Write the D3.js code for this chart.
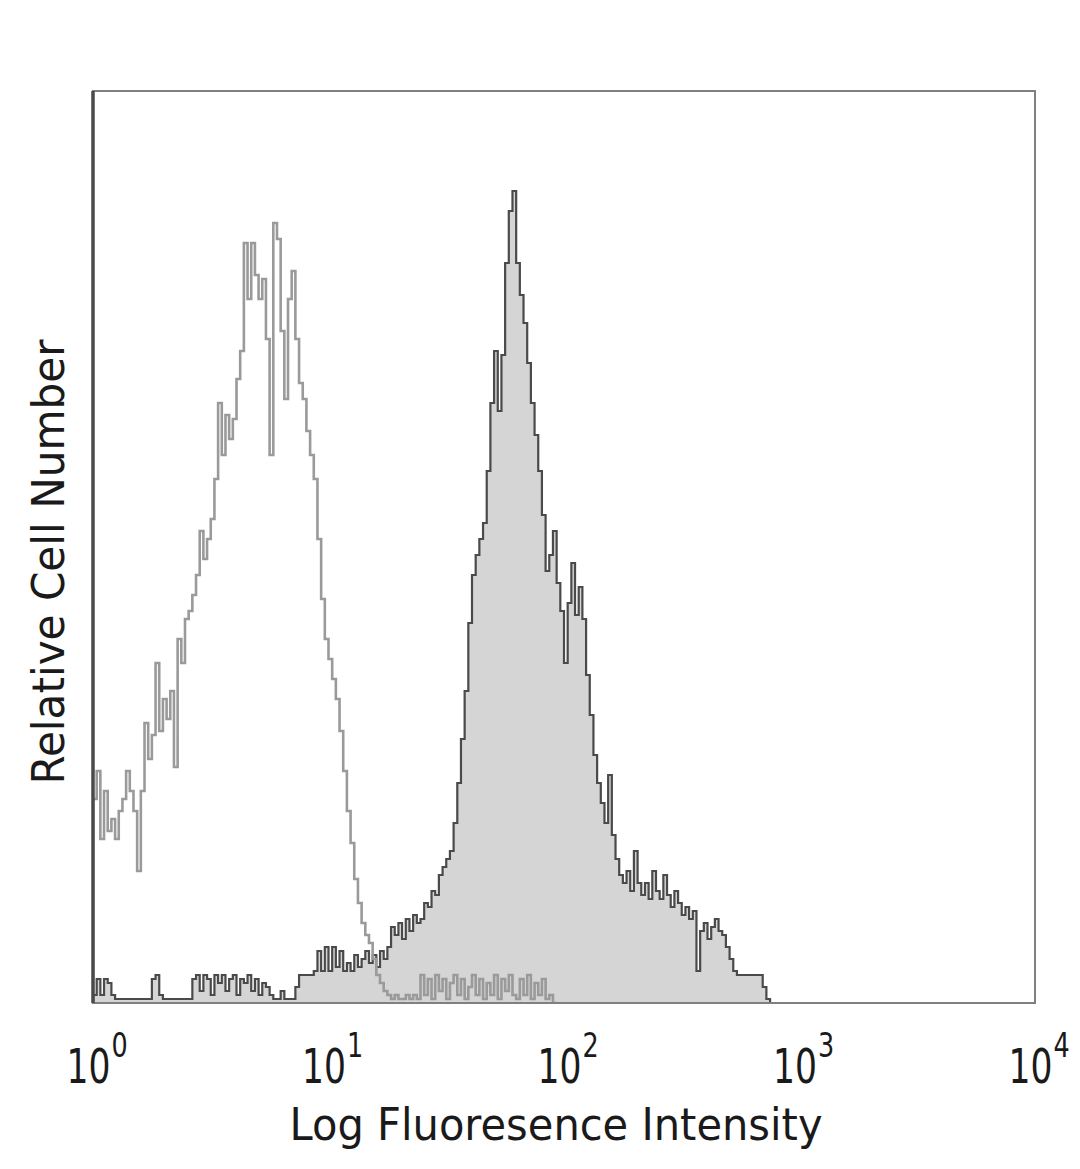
<!DOCTYPE html>
<html>
<head>
<meta charset="utf-8">
<script src="https://cdn.jsdelivr.net/npm/d3@7"></script>
<style>
  html, body { margin: 0; padding: 0; background: #fff; }
  svg { display: block; }
  text { font-family: 'DejaVu Sans', sans-serif; fill: #1a1a1a; }
</style>
</head>
<body>
<svg width="1080" height="1169"></svg>
<script>
// histogram channels: 256 bins spread over 4 decades (10^0 .. 10^4)
const DECADES = [1, 10, 100, 1000, 10000];
const BIN_COUNT = 256;

// isotype control (open grey histogram), counts per channel from channel 0
const isotypeCounts = [
  51, 58, 41, 53, 43, 46, 41, 48, 51, 58, 53, 48, 33, 53, 70, 61,
  67, 85, 68, 76, 71, 78, 59, 91, 85, 96, 98, 102, 107, 118, 111, 116,
  121, 131, 150, 137, 147, 141, 146, 156, 163, 190, 176, 190, 182, 176, 181, 166,
  137, 195, 191, 168, 151, 176, 183, 166, 155, 151, 143, 137, 131, 116, 101, 91,
  86, 81, 76, 68, 58, 48, 40, 31, 25, 20, 17, 15, 11, 7, 5, 3,
  2, 1, 2, 1, 1, 2, 1, 2, 1,
  7, 2, 6, 1, 7, 3, 6, 1, 5, 7, 2, 6, 1, 4, 7, 2, 6, 1, 5, 2, 7, 1, 6, 3,
  7, 2, 1, 6, 2, 7, 1, 5, 2, 6, 1, 2, 0
];

// stained sample (filled histogram), counts per channel from channel 0
const stainedCounts = [
  2, 6, 2, 6, 5, 2, 1, 1, 1, 1, 1, 1, 1, 1, 1, 1,
  6, 7, 2, 1, 1, 1, 1, 1, 1, 1, 1, 6, 7, 3, 7, 6,
  2, 7, 5, 7, 3, 6, 7, 2, 6, 5, 7, 3, 6, 2, 5, 4,
  2, 1, 1, 3, 1, 1, 1, 4, 7, 7, 7, 7, 8, 13, 8, 14,
  8, 14, 9, 13, 8, 10, 8, 12, 9, 11, 13, 10, 12, 9, 13, 11,
  14, 19, 17, 20, 16, 21, 18, 22, 20, 21, 25, 24, 28, 27, 32, 34,
  36, 38, 45, 55, 66, 78, 95, 107, 112, 116, 120, 133, 150, 163, 148, 162,
  185, 198, 203, 185, 177, 170, 160, 150, 142, 133, 122, 108, 112, 118, 105, 98,
  85, 100, 110, 97, 104, 96, 82, 72, 62, 55, 50, 45, 57, 42, 36, 32,
  30, 33, 28, 38, 30, 27, 30, 26, 33, 28, 26, 32, 27, 24, 28, 25,
  22, 24, 21, 23, 8, 18, 20, 16, 19, 21, 18, 17, 14, 11, 8, 7,
  7, 7, 7, 7, 7, 7, 4, 1, 0
];

const xTitle = 'Log Fluoresence Intensity';
const yTitle = 'Relative Cell Number';

const margin = {left: 93, top: 91, right: 45, bottom: 166};
const width = 1080, height = 1169;
const plotW = width - margin.left - margin.right;
const plotH = height - margin.top - margin.bottom;

const svg = d3.select('svg');

const x = d3.scaleLog()
  .domain([DECADES[0], DECADES[DECADES.length - 1]])
  .range([margin.left, margin.left + plotW]);

const y = d3.scaleLinear()
  .domain([0, 228])
  .range([margin.top + plotH, margin.top]);

const binEdge = i => Math.pow(10, i * 4 / BIN_COUNT);

// turn a per-channel array into a stepped outline
function stepPoints(counts) {
  const pts = [[binEdge(0), 0]];
  counts.forEach((c, i) => {
    pts.push([binEdge(i), c]);
    pts.push([binEdge(i + 1), c]);
  });
  pts.push([binEdge(counts.length), 0]);
  return pts;
}

const line = d3.line()
  .x(d => x(d[0]))
  .y(d => y(d[1]));

const area = d3.area()
  .x(d => x(d[0]))
  .y0(y(0))
  .y1(d => y(d[1]));

svg.append('defs').append('clipPath')
  .attr('id', 'plotClip')
  .append('rect')
  .attr('x', margin.left)
  .attr('y', margin.top)
  .attr('width', plotW)
  .attr('height', plotH);

const plot = svg.append('g').attr('clip-path', 'url(#plotClip)');

const stainedPts = stepPoints(stainedCounts);
plot.append('path')
  .attr('d', area(stainedPts))
  .attr('fill', '#d5d5d5');

plot.append('path')
  .attr('d', line(stainedPts))
  .attr('fill', 'none')
  .attr('stroke', '#4a4a4a')
  .attr('stroke-width', 2.2);

plot.append('path')
  .attr('d', line(stepPoints(isotypeCounts)))
  .attr('fill', 'none')
  .attr('stroke', '#9a9a9a')
  .attr('stroke-width', 2.6);

// frame
svg.append('rect')
  .attr('x', margin.left)
  .attr('y', margin.top)
  .attr('width', plotW)
  .attr('height', plotH)
  .attr('fill', 'none')
  .attr('stroke', '#808080')
  .attr('stroke-width', 2);

svg.append('line')
  .attr('x1', margin.left).attr('x2', margin.left)
  .attr('y1', margin.top).attr('y2', margin.top + plotH)
  .attr('stroke', '#4a4a4a')
  .attr('stroke-width', 3.5);

// x axis: 10^n labels, no tick marks; glyphs squeezed horizontally
const xAxis = svg.append('g')
  .attr('transform', 'translate(0,' + (margin.top + plotH) + ')')
  .call(d3.axisBottom(x).tickValues(DECADES).tickSize(0).tickFormat(''));
xAxis.select('.domain').remove();

xAxis.selectAll('.tick').each(function(d) {
  const tick = d3.select(this);
  tick.append('text')
    .attr('transform', 'translate(-5,80) scale(0.72,1)')
    .attr('text-anchor', 'middle')
    .attr('font-size', 48)
    .style('fill', '#1a1a1a')
    .text('10');
  tick.append('text')
    .attr('transform', 'translate(18,54) scale(0.75,1)')
    .attr('text-anchor', 'start')
    .attr('font-size', 34)
    .style('fill', '#1a1a1a')
    .text(Math.round(Math.log10(d)));
});

svg.append('text')
  .attr('x', margin.left + plotW / 2 - 8)
  .attr('y', 1140)
  .attr('text-anchor', 'middle')
  .attr('font-size', 44)
  .attr('textLength', 533)
  .attr('lengthAdjust', 'spacingAndGlyphs')
  .text(xTitle);

svg.append('text')
  .attr('transform', 'translate(64,' + 562 + ') rotate(-90)')
  .attr('text-anchor', 'middle')
  .attr('font-size', 44)
  .attr('textLength', 445)
  .attr('lengthAdjust', 'spacingAndGlyphs')
  .text(yTitle);
</script>
</body>
</html>
